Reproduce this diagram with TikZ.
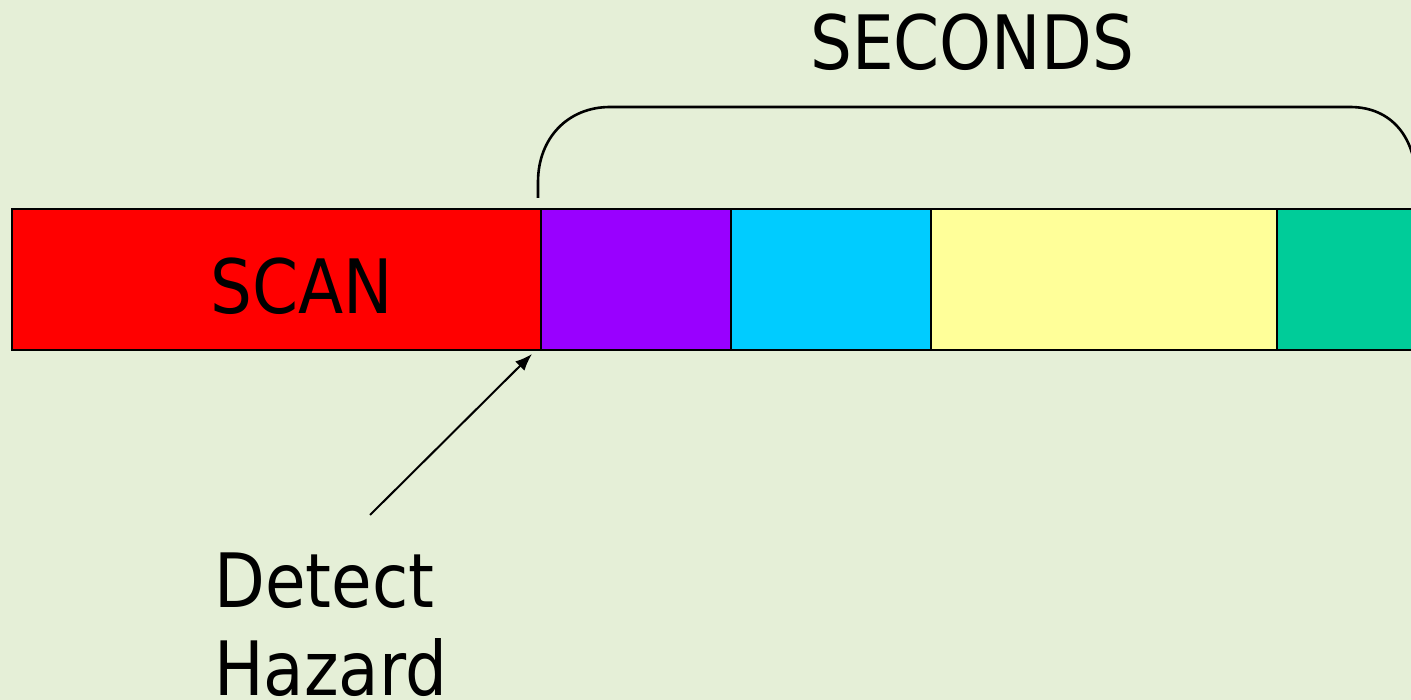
\documentclass[tikz,border=0pt]{standalone}
\usepackage{fontspec}
\setmainfont{DejaVu Sans}[FakeStretch=0.88]
\usetikzlibrary{arrows.meta}
\definecolor{bgc}{HTML}{E5EFD7}
\definecolor{cred}{HTML}{FF0000}
\definecolor{cpurple}{HTML}{9900FF}
\definecolor{ccyan}{HTML}{00CCFF}
\definecolor{cyellow}{HTML}{FFFF99}
\definecolor{cgreen}{HTML}{00CC99}
\tikzset{
  seg/.style={draw=black, line width=2.2pt, anchor=north west, minimum height=141pt, inner sep=0pt, outer sep=0pt},
  lbl/.style={inner sep=0pt, anchor=base west, font=\fontsize{75}{88}\selectfont, text=black},
  brace/.style={draw=black, line width=2.6pt},
  pointer/.style={draw=black, line width=2pt, -{Latex[length=17pt,width=13pt]}}
}
\begin{document}
\begin{tikzpicture}[x=1pt,y=-1pt]
\useasboundingbox (0,0) rectangle (1411,700);
\clip (0,0) rectangle (1411,700);
\fill[bgc] (0,0) rectangle (1411,700);
\node[seg, fill=cred, minimum width=529pt] (scan) at (12,209) {};
\node[seg, fill=cpurple, minimum width=190pt] (p1) at (541,209) {};
\node[seg, fill=ccyan, minimum width=200pt] (p2) at (731,209) {};
\node[seg, fill=cyellow, minimum width=346pt] (p3) at (931,209) {};
\node[seg, fill=cgreen, minimum width=160pt] (p4) at (1277,209) {};
\node[lbl] (scanlbl) at (210,314) {SCAN};
\node[lbl] (seclbl) at (810,70) {SECONDS};
\node[lbl] (det) at (214,607) {Detect};
\node[lbl] (haz) at (214,695) {Hazard};
\coordinate (bl) at (538,198);
\coordinate (br) at (1416,198);
\draw[brace] (bl) -- (538,182) .. controls (538,138) and (568,107) .. (610,107)
  -- (1350,107) .. controls (1392,107) and (1416,138) .. (1416,182) -- (br);
\coordinate (tail) at (370,515);
\draw[pointer] (tail) -- ([xshift=-9pt,yshift=-4pt]scan.south east);
\end{tikzpicture}
\end{document}
